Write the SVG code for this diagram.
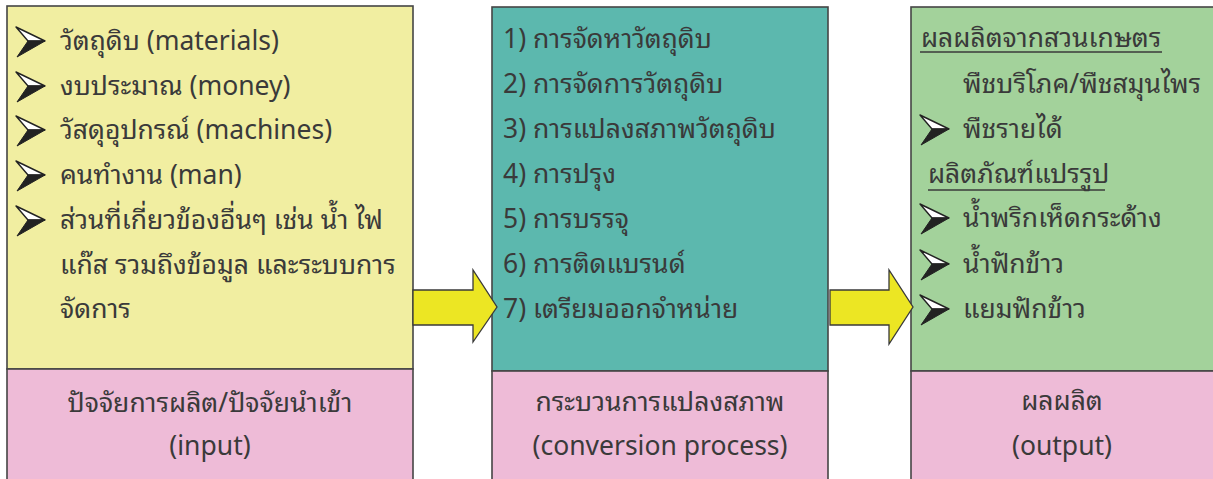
<svg xmlns="http://www.w3.org/2000/svg" xmlns:xlink="http://www.w3.org/1999/xlink" width="1213" height="479" viewBox="0 0 1213 479">
<style>
.t{font-family:"Noto Sans","Noto Sans Thai Looped","Noto Sans Thai","DejaVu Sans",sans-serif;font-size:26.5px;fill:#3a3a3a}
.c{text-anchor:middle}
.box{stroke:#454545;stroke-width:1.6}
.arr{fill:#ECE623;stroke:#3a3a3a;stroke-width:1.3;stroke-linejoin:miter}
.ul{stroke:#3a3a3a;stroke-width:1.4}
</style>
<defs>
<g id="bul">
<polygon points="0,0 29,14 12,14" fill="#fff" stroke="#222" stroke-width="1.4" stroke-linejoin="round"/>
<polygon points="12,14 29,14 1,30" fill="#222" stroke="#222" stroke-width="1"/>
</g>
</defs>
<rect width="1213" height="479" fill="#fff"/>

<g id="input">
<rect class="box" x="7" y="6" width="406" height="363" fill="#F1EEA1"/>
<rect class="box" x="7" y="369" width="406" height="120" fill="#EEBBD7"/>
<use xlink:href="#bul" x="16" y="27"/>
<use xlink:href="#bul" x="16" y="72"/>
<use xlink:href="#bul" x="16" y="116"/>
<use xlink:href="#bul" x="16" y="161"/>
<use xlink:href="#bul" x="16" y="206"/>
<text class="t" x="60" y="50">วัตถุดิบ (materials)</text>
<text class="t" x="60" y="95">งบประมาณ (money)</text>
<text class="t" x="60" y="139">วัสดุอุปกรณ์ (machines)</text>
<text class="t" x="60" y="184">คนทำงาน (man)</text>
<text class="t" x="60" y="229">ส่วนที่เกี่ยวข้องอื่นๆ เช่น น้ำ ไฟ</text>
<text class="t" x="60" y="274">แก๊ส รวมถึงข้อมูล และระบบการ</text>
<text class="t" x="60" y="318">จัดการ</text>
<text class="t c" x="210" y="412">ปัจจัยการผลิต/ปัจจัยนำเข้า</text>
<text class="t c" x="210" y="455">(input)</text>
</g>

<g id="process">
<rect class="box" x="492" y="7" width="336" height="364" fill="#5CB8AE"/>
<rect class="box" x="492" y="371" width="336" height="120" fill="#EEBBD7"/>
<text class="t" x="503" y="48">1) การจัดหาวัตถุดิบ</text>
<text class="t" x="503" y="93">2) การจัดการวัตถุดิบ</text>
<text class="t" x="503" y="138">3) การแปลงสภาพวัตถุดิบ</text>
<text class="t" x="503" y="183">4) การปรุง</text>
<text class="t" x="503" y="228">5) การบรรจุ</text>
<text class="t" x="503" y="273">6) การติดแบรนด์</text>
<text class="t" x="503" y="318">7) เตรียมออกจำหน่าย</text>
<text class="t c" x="660" y="411">กระบวนการแปลงสภาพ</text>
<text class="t c" x="660" y="455">(conversion process)</text>
</g>

<g id="output">
<rect class="box" x="911" y="7" width="320" height="364" fill="#A3D29B"/>
<rect class="box" x="911" y="371" width="320" height="120" fill="#EEBBD7"/>
<text class="t" x="921" y="47">ผลผลิตจากสวนเกษตร</text>
<line class="ul" x1="920" y1="52" x2="1162" y2="52"/>
<text class="t" x="963" y="93">พืชบริโภค/พืชสมุนไพร</text>
<use xlink:href="#bul" x="920" y="115"/>
<text class="t" x="963" y="138">พืชรายได้</text>
<text class="t" x="928" y="183">ผลิตภัณฑ์แปรรูป</text>
<line class="ul" x1="928" y1="190" x2="1105" y2="190"/>
<use xlink:href="#bul" x="920" y="204"/>
<use xlink:href="#bul" x="920" y="250"/>
<use xlink:href="#bul" x="920" y="295"/>
<text class="t" x="963" y="227">น้ำพริกเห็ดกระด้าง</text>
<text class="t" x="963" y="273">น้ำฟักข้าว</text>
<text class="t" x="963" y="318">แยมฟักข้าว</text>
<text class="t c" x="1062" y="410">ผลผลิต</text>
<text class="t c" x="1062" y="455">(output)</text>
</g>

<g id="connectors">
<polygon class="arr" points="413,290 473,290 473,270 497,307 473,342 473,325 413,325"/>
<polygon class="arr" points="830,290 889,290 889,270 913,307 889,344 889,325 830,325"/>
</g>
</svg>
